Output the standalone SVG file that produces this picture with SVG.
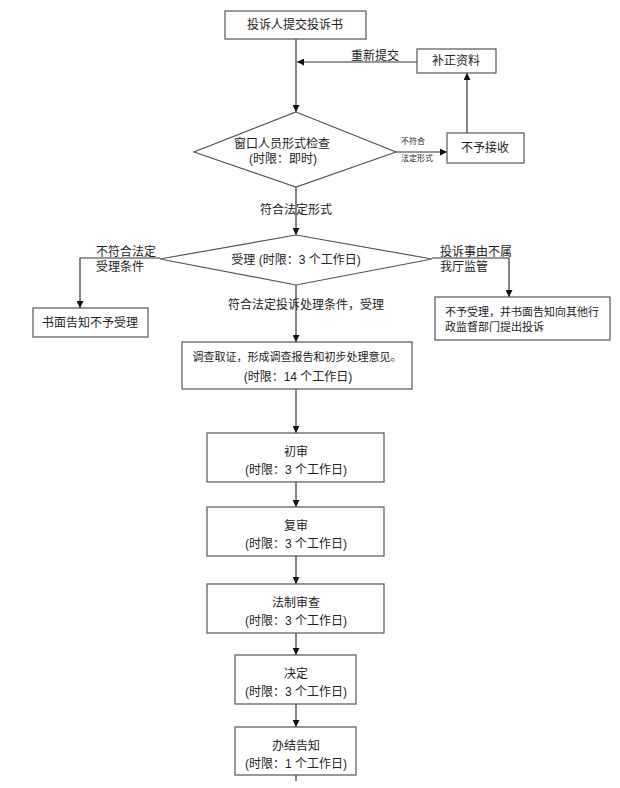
<svg xmlns="http://www.w3.org/2000/svg" width="620" height="788" viewBox="0 0 620 788">
<style>
.box{fill:#fff;stroke:#555;stroke-width:1.2}
.t{font-family:"Liberation Sans","Noto Sans CJK SC",sans-serif;font-size:12px;fill:#222;text-anchor:middle;dominant-baseline:central}
.l{text-anchor:start}
.s{font-size:8px}
.m{font-size:11px}
.c{fill:none;stroke:#333;stroke-width:1.2}
</style>
<defs>
<marker id="a" viewBox="0 0 10 10" refX="10" refY="5" markerWidth="7" markerHeight="7" markerUnits="userSpaceOnUse" orient="auto">
<path d="M0,0 L10,5 L0,10 z" fill="#111"/>
</marker>
</defs>
<rect width="620" height="788" fill="#fff"/>
<g id="connectors">
<path class="c" d="M296,39 V112" marker-end="url(#a)"/>
<path class="c" d="M417,62 H297" marker-end="url(#a)"/>
<path class="c" d="M467,133 V73" marker-end="url(#a)"/>
<path class="c" d="M396,152 H447" marker-end="url(#a)"/>
<path class="c" d="M296,187 V235" marker-end="url(#a)"/>
<path class="c" d="M160,258 H80 V308" marker-end="url(#a)"/>
<path class="c" d="M432,258 H509 V297" marker-end="url(#a)"/>
<path class="c" d="M296,285 V342" marker-end="url(#a)"/>
<path class="c" d="M296,389 V433" marker-end="url(#a)"/>
<path class="c" d="M296,482 V507" marker-end="url(#a)"/>
<path class="c" d="M296,556 V584" marker-end="url(#a)"/>
<path class="c" d="M296,633 V655" marker-end="url(#a)"/>
<path class="c" d="M296,704 V727" marker-end="url(#a)"/>
<path class="c" d="M296,775 V781"/>
<text class="t" x="375" y="56">重新提交</text>
<text class="t s l" x="401" y="141">不符合</text>
<text class="t s l" x="401" y="158">法定形式</text>
<text class="t" x="296" y="210">符合法定形式</text>
<text class="t l" x="96" y="252">不符合法定</text>
<text class="t l" x="96" y="267">受理条件</text>
<text class="t l" x="440" y="252">投诉事由不属</text>
<text class="t l" x="440" y="267">我厅监管</text>
<text class="t" x="306" y="305">符合法定投诉处理条件，受理</text>
</g>
<g id="submit">
<rect class="box" x="225" y="11" width="141" height="28"/>
<text class="t" x="295" y="25">投诉人提交投诉书</text>
</g>
<g id="supplement">
<rect class="box" x="417" y="49" width="79" height="24"/>
<text class="t" x="456" y="61">补正资料</text>
</g>
<g id="check">
<path class="box" d="M296,112 L396,152 L296,187 L194,152 Z"/>
<text class="t" x="282" y="144">窗口人员形式检查</text>
<text class="t" x="283" y="159">(时限：即时)</text>
</g>
<g id="reject">
<rect class="box" x="447" y="133" width="77" height="30"/>
<text class="t" x="485" y="148">不予接收</text>
</g>
<g id="accept">
<path class="box" d="M296,235 L432,259 L296,285 L160,259 Z"/>
<text class="t" x="296" y="260">受理 (时限：3 个工作日)</text>
</g>
<g id="notify-reject">
<rect class="box" x="33" y="308" width="115" height="29"/>
<text class="t" x="90" y="323">书面告知不予受理</text>
</g>
<g id="notify-other">
<rect class="box" x="435" y="297" width="175" height="43"/>
<text class="t m l" x="445" y="312">不予受理，并书面告知向其他行</text>
<text class="t m l" x="445" y="327">政监督部门提出投诉</text>
</g>
<g id="investigate">
<rect class="box" x="182" y="342" width="230" height="47"/>
<text class="t m" x="297" y="357">调查取证，形成调查报告和初步处理意见。</text>
<text class="t" x="298" y="377">(时限：14 个工作日)</text>
</g>
<g id="first-review">
<rect class="box" x="207" y="433" width="177" height="49"/>
<text class="t" x="296" y="452">初审</text>
<text class="t" x="296" y="470">(时限：3 个工作日)</text>
</g>
<g id="second-review">
<rect class="box" x="207" y="507" width="177" height="49"/>
<text class="t" x="296" y="526">复审</text>
<text class="t" x="296" y="544">(时限：3 个工作日)</text>
</g>
<g id="legal-review">
<rect class="box" x="207" y="584" width="177" height="49"/>
<text class="t" x="296" y="603">法制审查</text>
<text class="t" x="296" y="621">(时限：3 个工作日)</text>
</g>
<g id="decision">
<rect class="box" x="235" y="655" width="121" height="49"/>
<text class="t" x="296" y="674">决定</text>
<text class="t" x="296" y="692">(时限：3 个工作日)</text>
</g>
<g id="close">
<rect class="box" x="235" y="727" width="121" height="48"/>
<text class="t" x="296" y="746">办结告知</text>
<text class="t" x="296" y="764">(时限：1 个工作日)</text>
</g>
</svg>
